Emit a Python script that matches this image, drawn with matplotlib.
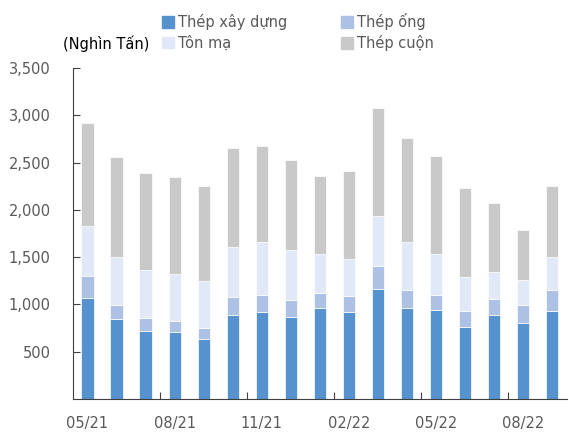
import matplotlib.pyplot as plt
import matplotlib.patches as mpatches
import numpy as np

months = ['05/21', '06/21', '07/21', '08/21', '09/21', '10/21', '11/21', '12/21', '01/22',
          '02/22', '03/22', '04/22', '05/22', '06/22', '07/22', '08/22', '09/22']
# Nghìn tấn
thep_xay_dung = [1071, 846, 722, 712, 638, 892, 923, 870, 962, 920, 1163, 962, 941, 761, 888, 807, 930]
thep_ong = [229, 148, 138, 116, 116, 186, 176, 177, 162, 172, 243, 187, 158, 169, 169, 187, 219]
ton_ma = [529, 507, 507, 497, 497, 532, 564, 528, 412, 392, 532, 511, 430, 356, 286, 260, 352]
thep_cuon = [1089, 1057, 1026, 1025, 997, 1040, 1015, 955, 825, 926, 1138, 1099, 1040, 948, 725, 536, 754]

labels = ['Thép xây dựng', 'Thép ống', 'Tôn mạ', 'Thép cuộn']
colors = ['#5592CE', '#ADC1E5', '#E1E8F7', '#C9C9C9']
grey = '#595959'

plt.rcParams['font.family'] = ['DejaVu Sans']

fig = plt.figure(figsize=(5.69, 4.32), dpi=100)
ax = fig.add_axes([73 / 569, 33 / 432, 493.5 / 569, 331 / 432])

x = np.arange(len(months))
series = [thep_xay_dung, thep_ong, ton_ma, thep_cuon]
bottom = np.zeros(len(months))
for vals, c, lab in zip(series, colors, labels):
    ax.bar(x, vals, width=0.42, bottom=bottom, color=c, edgecolor='white',
           linewidth=0.5, label=lab)
    bottom += np.array(vals)

ax.set_xlim(-0.5, len(months) - 0.5)
ax.set_ylim(0, 3500)
ax.set_yticks(np.arange(500, 3501, 500))
ax.set_yticklabels(['{:,}'.format(v) for v in range(500, 3501, 500)])
ax.tick_params(axis='y', direction='in', length=5, width=0.8, pad=16,
               labelsize=10.5, labelcolor=grey, color='#404040')

ax.set_xticks(x[::3])
ax.set_xticklabels(months[::3])
ax.tick_params(axis='x', length=0, pad=12, labelsize=10.5, labelcolor=grey)
ax.set_xticks(np.arange(2.5, len(months), 3), minor=True)
ax.tick_params(axis='x', which='minor', direction='in', length=5, width=0.8, color='#404040')

for s in ['top', 'right']:
    ax.spines[s].set_visible(False)
for s in ['left', 'bottom']:
    ax.spines[s].set_color('#404040')
    ax.spines[s].set_linewidth(0.8)

handles = [mpatches.Patch(color=c) for c in colors]
order = [0, 2, 1, 3]
fig.legend([handles[i] for i in order], [labels[i] for i in order], ncol=2,
           loc='upper left', bbox_to_anchor=(162 / 569, 1 - 13 / 432), frameon=False,
           fontsize=10.5, labelcolor=grey, handlelength=0.8, handleheight=0.8,
           handletextpad=0.3, columnspacing=3.7, labelspacing=0.35,
           borderpad=0, borderaxespad=0)

fig.text(63 / 569, 1 - 44 / 432, '(Nghìn Tấn)', fontsize=10.5, color='black', va='center')

fig.savefig('out.png', dpi=100)
